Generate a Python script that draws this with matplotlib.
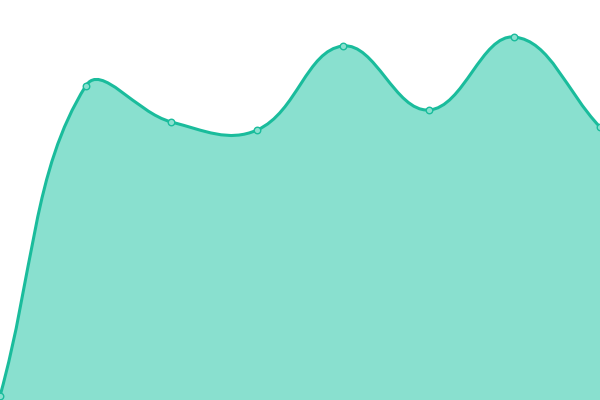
import numpy as np
import matplotlib
matplotlib.use("Agg")
import matplotlib.pyplot as plt
from matplotlib.path import Path
from matplotlib.patches import PathPatch

labels = ["A", "B", "C", "D", "E", "F", "G", "H"]
values = [4, 314, 278, 270, 354, 290, 363, 273]

line_color = "#1abc9c"
fill_color = "#89e0cf"
tension = 0.4

fig = plt.figure(figsize=(6, 4), dpi=100)
ax = fig.add_axes([0, 0, 1, 1])
ax.set_xlim(0, len(values) - 1)
ax.set_ylim(0, 400)
ax.axis("off")

xs = np.arange(len(values), dtype=float)
ys = np.array(values, dtype=float)
# compute spline in display space (Chart.js-like)
pts = ax.transData.transform(np.column_stack([xs, ys]))
n = len(pts)
cps_prev = np.zeros_like(pts)
cps_next = np.zeros_like(pts)
bbox = ax.bbox
for i in range(n):
    cur = pts[i]
    prev = pts[i - 1] if i > 0 else cur
    nxt = pts[i + 1] if i < n - 1 else cur
    d01 = np.hypot(*(cur - prev))
    d12 = np.hypot(*(nxt - cur))
    tot = d01 + d12
    s01 = d01 / tot if tot else 0
    s12 = d12 / tot if tot else 0
    fa = tension * s01
    fb = tension * s12
    cps_prev[i] = cur - fa * (nxt - prev)
    cps_next[i] = cur + fb * (nxt - prev)
# cap to chart area
for arr in (cps_prev, cps_next):
    arr[:, 0] = np.clip(arr[:, 0], bbox.x0, bbox.x1)
    arr[:, 1] = np.clip(arr[:, 1], bbox.y0, bbox.y1)

verts = [pts[0]]
codes = [Path.MOVETO]
for i in range(n - 1):
    verts += [cps_next[i], cps_prev[i + 1], pts[i + 1]]
    codes += [Path.CURVE4] * 3
inv = ax.transData.inverted()
verts_d = inv.transform(np.array(verts))

line_path = Path(verts_d, codes)
fill_verts = list(verts_d) + [(xs[-1], 0), (xs[0], 0), tuple(verts_d[0])]
fill_codes = list(codes) + [Path.LINETO, Path.LINETO, Path.CLOSEPOLY]
ax.add_patch(PathPatch(Path(fill_verts, fill_codes), facecolor=fill_color,
                       edgecolor="none", clip_on=False))
ax.add_patch(PathPatch(line_path, facecolor="none", edgecolor=line_color,
                       linewidth=2.2, clip_on=False, capstyle="round"))
ax.scatter(xs, ys, s=22, facecolor=fill_color, edgecolor=line_color,
           linewidth=1.0, zorder=5, clip_on=False)

fig.savefig("out.png", dpi=100)
